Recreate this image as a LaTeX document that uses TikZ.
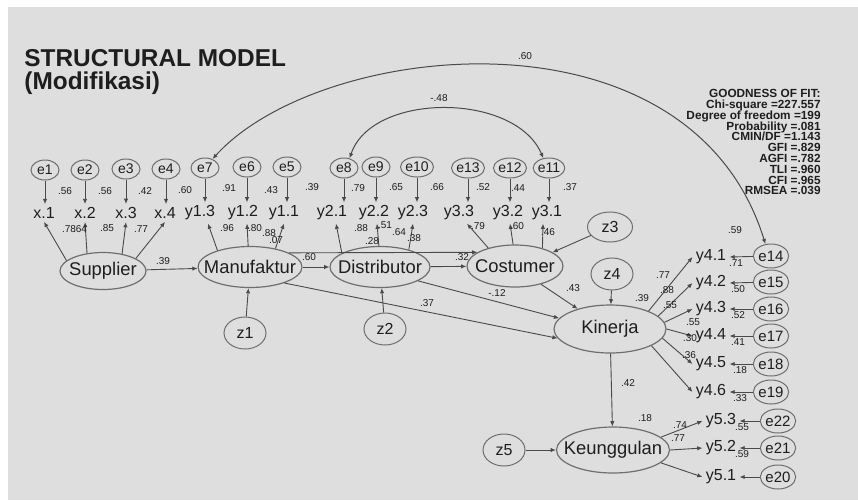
\documentclass[tikz,border=0pt]{standalone}
\usepackage{fontspec}
\setmainfont{Liberation Sans}
\usetikzlibrary{arrows.meta,shapes.geometric}
\definecolor{bggray}{HTML}{DEDEDE}
\definecolor{inkc}{HTML}{1E1E1E}
\definecolor{linec}{HTML}{4A4A4A}
\definecolor{ovalc}{HTML}{6E6E6E}
\newcommand\latfnt{\fontsize{9.2}{10}\selectfont}
\newcommand\goffnt{\bfseries\fontsize{5.9}{5.4}\selectfont\lineskiplimit=-10pt\relax\lineskip=0pt\relax}
\begin{document}
\begin{tikzpicture}[x=0.5pt,y=-0.5pt,
  every node/.style={text=inkc},
  lat/.style={draw=ovalc, line width=0.6pt, ellipse, inner sep=0pt},
  err/.style={draw=ovalc, line width=0.5pt, ellipse, inner sep=0pt, minimum width=14pt, minimum height=10pt, font=\fontsize{7}{7}\selectfont},
  errr/.style={err, minimum width=16pt, minimum height=12pt, font=\fontsize{7.5}{8}\selectfont},
  zz/.style={draw=ovalc, line width=0.5pt, ellipse, inner sep=0pt, minimum width=21pt, minimum height=16pt, font=\fontsize{8}{8}\selectfont},
  ind/.style={inner sep=1.5pt, font=\fontsize{8}{8}\selectfont},
  coef/.style={inner sep=0pt, font=\fontsize{5}{5}\selectfont},
  arr/.style={draw=linec, line width=0.45pt, -{Latex[length=2.6pt,width=2.2pt]}},
  cov/.style={draw=linec, line width=0.5pt, {Latex[length=2.6pt,width=2.2pt]}-{Latex[length=2.6pt,width=2.2pt]}},
]
\useasboundingbox (0,0) rectangle (858,500);
\fill[white] (0,0) rectangle (858,500);
\fill[bggray] (8,7) rectangle (858,500);

% title
\node[anchor=west, inner sep=0pt, font=\bfseries\fontsize{12.2}{13}\selectfont] (t1) at (24,58) {STRUCTURAL MODEL};
\node[anchor=west, inner sep=0pt, font=\bfseries\fontsize{12.2}{13}\selectfont] (t2) at (24,83) {(Modifikasi)};

% goodness of fit
\node[anchor=north east, align=right, inner sep=0pt, font=\goffnt] (gof) at (821,89)
 {GOODNESS OF FIT:\\Chi-square =227.557\\Degree of freedom =199\\Probability =.081\\CMIN/DF =1.143\\GFI =.829\\AGFI =.782\\TLI =.960\\CFI =.965\\RMSEA =.039};

% latent variables
\node[lat, minimum width=43pt, minimum height=18.5pt, label={[font=\latfnt]center:Supplier}] (sup) at (103,271) {};
\node[lat, minimum width=52pt, minimum height=20.5pt, label={[font=\latfnt]center:Manufaktur}] (man) at (250,267) {};
\node[lat, minimum width=50pt, minimum height=20.5pt, label={[font=\latfnt]center:Distributor}] (dis) at (380,267) {};
\node[lat, minimum width=48pt, minimum height=21pt, label={[font=\latfnt]center:Costumer}] (cos) at (515,266) {};
\node[lat, minimum width=56pt, minimum height=24pt, label={[font=\latfnt]center:Kinerja}] (kin) at (610,329) {};
\node[lat, minimum width=56.5pt, minimum height=23pt, label={[font=\latfnt]center:Keunggulan}] (keu) at (613,450) {};

% disturbances
\node[zz] (z1) at (245,333) {z1};
\node[zz] (z2) at (385,329) {z2};
\node[zz, minimum width=22.5pt, minimum height=15pt] (z3) at (610,227) {z3};
\node[zz] (z4) at (612,274) {z4};
\node[zz] (z5) at (504,450) {z5};

% top errors
\foreach \n/\x/\y in {e1/45/170, e2/85/170, e3/126/169, e4/166/169, e7/205/168, e6/247/167, e5/287/167,
  e8/344/168, e9/376/167, e10/417/167, e13/468/168, e12/510/168, e11/549/168}
  \node[err] (\n) at (\x,\y) {\n};

% top indicators
\foreach \n/\t/\x in {x1/x.1/44, x2/x.2/85, x3/x.3/126, x4/x.4/165, y13/y1.3/200, y12/y1.2/243, y11/y1.1/284,
  y21/y2.1/332, y22/y2.2/374, y23/y2.3/413, y33/y3.3/459, y32/y3.2/508, y31/y3.1/547}
  \node[ind] (\n) at (\x,213) {\t};

\foreach \e/\i in {e1/x1, e2/x2, e3/x3, e4/x4, e7/y13, e6/y12, e5/y11, e8/y21, e9/y22, e10/y23, e13/y33, e12/y32, e11/y31}
  \draw[arr] (\e) -- (\e |- \i.north);

% loadings to top indicators
\draw[arr] (sup.164) -- (x1.south);
\draw[arr] (sup.132) -- (x2.south);
\draw[arr] (sup.42) -- (x3.south);
\draw[arr] (sup.21) -- (x4.south);
\draw[arr] (man.153) -- ([xshift=4pt]y13.south);
\draw[arr] (man.95) -- ([xshift=2pt]y12.south);
\draw[arr] (man.36) -- (y11.south);
\draw[arr] (dis.160) -- ([xshift=2pt]y21.south);
\draw[arr] (dis.93) -- ([xshift=1.5pt]y22.south);
\draw[arr] (dis.31) -- (y23.south);
\draw[arr] (cos.146) -- ([xshift=4pt]y33.south);
\draw[arr] (cos.95) -- ([xshift=1pt]y32.south);
\draw[arr] (cos.33) -- ([xshift=-2pt]y31.south);

% structural paths
\draw[arr] (sup) -- (man);
\draw[arr] (man) -- (dis);
\draw[arr] (man.20) -- (cos.160);
\draw[arr] (dis) -- (cos);
\draw[arr] (man.-25) -- (kin.190);
\draw[arr] (dis.-20) -- (kin.168);
\draw[arr] (cos.-35) -- (kin.148);
\draw[arr] (kin) -- (keu);
\draw[arr] (z1) -- (man);
\draw[arr] (z2) -- (dis);
\draw[arr] (z3) -- (cos.20);
\draw[arr] (z4) -- (kin);
\draw[arr] (z5) -- (keu);

% right indicators
\foreach \n/\t/\y in {y41/y4.1/257, y42/y4.2/283, y43/y4.3/309, y44/y4.4/336, y45/y4.5/364, y46/y4.6/392}
  \node[ind] (\n) at (711,\y) {\t};
\foreach \n/\t/\y in {y53/y5.3/421, y52/y5.2/448, y51/y5.1/477}
  \node[ind] (\n) at (721,\y) {\t};
\foreach \n/\y in {e14/256, e15/282, e16/309, e17/336, e18/364, e19/392}
  \node[errr] (\n) at (771,\y) {\n};
\foreach \n/\y in {e22/421, e21/448, e20/477}
  \node[errr] (\n) at (778,\y) {\n};

\foreach \a/\i in {25/y41, 15/y42, 7/y43, 0/y44, -10/y45, -22/y46}
  \draw[arr] (kin.\a) -- (\i.west);
\foreach \a/\i in {15/y53, 0/y52, -15/y51}
  \draw[arr] (keu.\a) -- (\i.west);
\foreach \e/\i in {e14/y41, e15/y42, e16/y43, e17/y44, e18/y45, e19/y46, e22/y53, e21/y52, e20/y51}
  \draw[arr] (\e) -- (\i.east);

% covariances
\draw[cov] (e7.50) .. controls (320,40) and (690,0) .. (e14.115);
\draw[cov] (e8.60) .. controls (372,92) and (515,92) .. (e11.120);

% coefficients
\foreach \t/\x/\y [count=\k] in {
  .56/65/191, .56/105/191, .42/145/191, .60/185/190, .91/229/188, .43/271/190, .39/312/187,
  .79/358/188, .65/396/187, .66/437/187, .52/483/187, .44/518/188, .37/570/187,
  .78/69/229, .64/80/229, .85/107/228, .77/141/229, .96/227/228, .80/255/228, .88/269/233, .07/276/240,
  .88/361/228, .51/385/225, .64/399/232, .38/414/238, .28/372/241, .79/478/226, .60/517/226, .46/548/232,
  .39/163/261, .60/309/257, .32/462/257, .37/427/303, -.12/497/293, .43/573/288,
  .39/642/298, .59/735/230, .77/663/275, .88/667/290, .55/670/305, .55/693/322, .30/690/338, .36/689/355,
  .42/628/383, .18/645/418, .74/680/425, .77/678/438,
  .71/736/263, .50/738/289, .52/738/315, .41/738/342, .18/740/370, .33/740/398, .55/742/427, .59/742/454,
  -.48/439/98, .60/525/56}
  \node[coef] (c\k) at (\x,\y) {\t};
\end{tikzpicture}
\end{document}
